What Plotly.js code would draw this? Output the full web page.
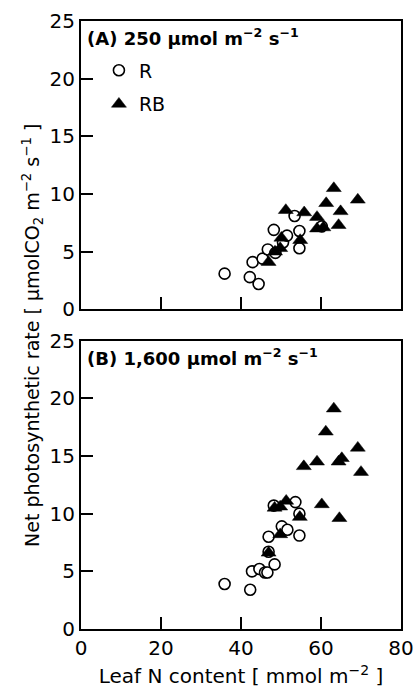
<!DOCTYPE html>
<html>
<head>
<meta charset="utf-8">
<script src="https://cdn.plot.ly/plotly-3.0.1.min.js"></script>
<style>html,body{margin:0;padding:0;background:#fff;}#chart{width:416px;height:690px;}</style>
</head>
<body>
<div id="chart"></div>
<script>
// Panel A: 250 µmol m-2 s-1
const aR_N = [35.9, 42.2, 42.9, 44.4, 45.4, 46.7, 48.6, 48.2, 50.5, 51.5, 53.4, 54.6, 54.6, 60.2];
const aR_P = [3.1, 2.8, 4.1, 2.2, 4.4, 5.2, 4.9, 6.9, 5.8, 6.4, 8.1, 6.8, 5.3, 7.2];
const aRB_N = [46.9, 48.5, 49.8, 50.1, 51.2, 54.8, 55.8, 59.0, 59.0, 60.6, 61.3, 63.2, 64.9, 64.4, 69.2];
const aRB_P = [4.1, 5.0, 5.3, 6.2, 8.6, 6.0, 8.4, 8.0, 7.0, 7.1, 9.2, 10.5, 8.5, 7.3, 9.5];
// Panel B: 1,600 µmol m-2 s-1
const bR_N = [35.9, 42.3, 42.75, 44.6, 46.0, 46.6, 48.4, 46.9, 46.9, 48.2, 50.2, 51.6, 53.6, 54.6, 54.6];
const bR_P = [3.9, 3.4, 5.0, 5.2, 4.9, 4.9, 5.6, 6.7, 8.0, 10.7, 8.9, 8.6, 11.0, 10.0, 8.1];
const bRB_N = [46.9, 49.8, 48.4, 49.8, 51.3, 54.7, 55.7, 59.0, 60.2, 61.2, 63.2, 64.4, 65.2, 64.6, 69.2, 70.0];
const bRB_P = [6.6, 8.2, 10.5, 10.6, 11.1, 9.7, 14.1, 14.5, 10.8, 17.1, 19.1, 14.5, 14.8, 9.6, 15.7, 13.6];

const seriesNames = ['R', 'RB'];
const xTicks = [0, 20, 40, 60, 80];
const yTicks = [0, 5, 10, 15, 20, 25];

const FONT = 'DejaVu Sans, Liberation Sans, Arial, sans-serif';
const circ = {symbol: 'circle', size: 11, color: '#ffffff', line: {color: '#000', width: 1.6}};
const tri = {symbol: 'triangle-up', size: 13, color: '#000', line: {color: '#000', width: 0.5}};

const traces = [
  {x: aR_N, y: aR_P, type: 'scatter', mode: 'markers', name: seriesNames[0], legendgroup: 'r', marker: circ, xaxis: 'x', yaxis: 'y', cliponaxis: false},
  {x: aRB_N, y: aRB_P, type: 'scatter', mode: 'markers', name: seriesNames[1], legendgroup: 'rb', marker: tri, xaxis: 'x', yaxis: 'y', cliponaxis: false},
  {x: bR_N, y: bR_P, type: 'scatter', mode: 'markers', name: seriesNames[0], showlegend: false, marker: circ, xaxis: 'x2', yaxis: 'y2', cliponaxis: false},
  {x: bRB_N, y: bRB_P, type: 'scatter', mode: 'markers', name: seriesNames[1], showlegend: false, marker: tri, xaxis: 'x2', yaxis: 'y2', cliponaxis: false}
];

const axBase = {
  showline: true, linecolor: '#000', linewidth: 2, mirror: true,
  ticks: 'inside', ticklen: 12, tickwidth: 2, tickcolor: '#000',
  showgrid: false, zeroline: false, fixedrange: true,
  tickfont: {family: FONT, size: 20, color: '#000'}
};

const layout = {
  width: 416, height: 690,
  margin: {l: 81, r: 15, t: 21, b: 61},
  paper_bgcolor: '#fff', plot_bgcolor: '#fff',
  font: {family: FONT, color: '#000'},
  showlegend: true,
  legend: {x: 0.056, y: 0.95, xanchor: 'left', yanchor: 'top', bgcolor: 'rgba(0,0,0,0)',
           font: {family: FONT, size: 19, color: '#000'}, tracegroupgap: 6, itemsizing: 'trace'},
  xaxis: Object.assign({}, axBase, {range: [0, 80], tickvals: xTicks, showticklabels: false, anchor: 'y', domain: [0, 1]}),
  yaxis: Object.assign({}, axBase, {range: [0, 25], tickvals: yTicks, anchor: 'x', domain: [0.5256, 1]}),
  xaxis2: Object.assign({}, axBase, {range: [0, 80], tickvals: xTicks, anchor: 'y2', domain: [0, 1],
           title: {text: 'Leaf N content [ mmol m<sup>−2</sup> ]', font: {family: FONT, size: 20, color: '#000'}, standoff: 10}}),
  yaxis2: Object.assign({}, axBase, {range: [0, 25], tickvals: yTicks, anchor: 'x2', domain: [0, 0.4743]}),
  annotations: [
    {text: '<b>(A) 250 μmol m<sup>−2</sup> s<sup>−1</sup></b>', xref: 'paper', yref: 'paper', x: 0.012, y: 0.974,
     xanchor: 'left', yanchor: 'middle', showarrow: false, font: {family: FONT, size: 18, color: '#000'}},
    {text: '<b>(B) 1,600 μmol m<sup>−2</sup> s<sup>−1</sup></b>', xref: 'paper', yref: 'paper', x: 0.012, y: 0.448,
     xanchor: 'left', yanchor: 'middle', showarrow: false, font: {family: FONT, size: 18, color: '#000'}},
    {text: 'Net photosynthetic rate [ μmolCO<sub>2</sub> m<sup>−2</sup> s<sup>−1</sup> ]', xref: 'paper', yref: 'paper',
     x: -0.15, y: 0.482, xanchor: 'center', yanchor: 'middle', textangle: -90, showarrow: false,
     font: {family: FONT, size: 19, color: '#000'}}
  ]
};

Plotly.newPlot('chart', traces, layout, {displayModeBar: false, staticPlot: true});
</script>
</body>
</html>
